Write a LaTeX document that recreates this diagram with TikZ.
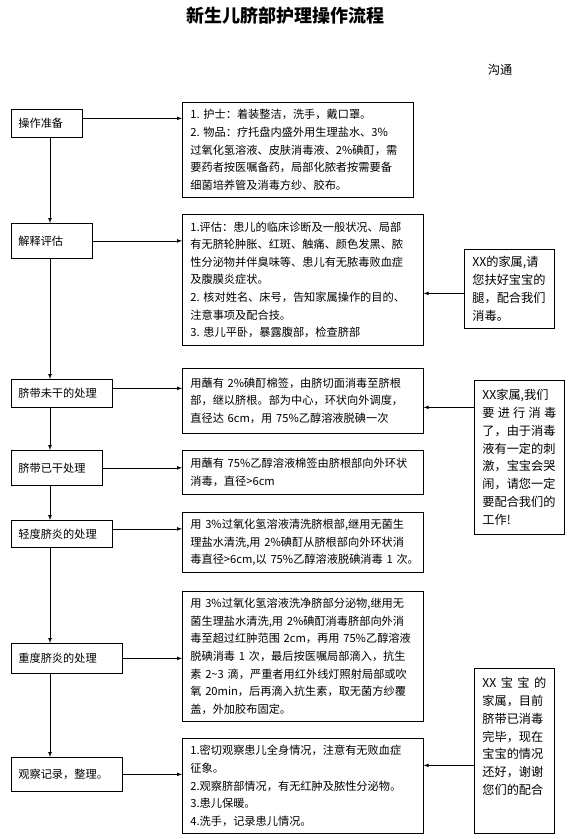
\documentclass[tikz,border=0pt]{standalone}
\usepackage{fontspec}
\setmainfont{Noto Sans CJK SC}
\newcommand{\bodyfont}{\fontsize{11.2}{17.6}\selectfont}
\newcommand{\sidefont}{\fontsize{12.2}{17.8}\selectfont}
\tikzset{
  stage/.style={draw, anchor=north west, align=left, inner xsep=7pt,
    inner ysep=0pt, font=\bodyfont},
  detail/.style={draw, anchor=north west, align=left, inner xsep=8pt,
    inner ysep=0pt, text width=225pt, font=\bodyfont},
  talkbox/.style={draw, anchor=north west, align=left, inner xsep=8pt,
    inner ysep=0pt, text width=74pt, font=\sidefont},
}

\begin{document}
\begin{tikzpicture}[x=1pt, y=-1pt, line width=0.7pt]
        \useasboundingbox (0,0) rectangle (580,839);
        \node (title) at (285, 16)
          {\fontsize{18}{20}\selectfont\bfseries 新生儿脐部护理操作流程};
        \node (talk) at (500, 70) {\sidefont 沟通};
        \coordinate (spine) at (50, 0);
        % steps on the left
        \node[stage, text width=57pt, minimum height=28pt] (prep) at (11, 109) {操作准备};
        \node[stage, text width=67pt, minimum height=35pt] (eval) at (11, 223) {解释评估};
        \node[stage, text width=87pt, minimum height=28pt] (wet) at (11, 379) {脐带未干的处理};
        \node[stage, text width=77pt, minimum height=35pt] (dry) at (11, 450) {脐带已干处理};
        \node[stage, text width=87pt, minimum height=27pt] (mild) at (11, 520) {轻度脐炎的处理};
        \node[stage, text width=97pt, minimum height=30pt] (severe) at (11, 643) {重度脐炎的处理};
        \node[stage, text width=97pt, minimum height=34pt] (record) at (11, 757) {观察记录，整理。};
        % what is done in each step
        \node[detail, text width=215pt, minimum height=95pt] (dprep) at (182, 102)
          {1.~护士：着装整洁，洗手，戴口罩。\\
           2.~物品：疗托盘内盛外用生理盐水、3\%\\
           过氧化氢溶液、皮肤消毒液、2\%碘酊，需\\
           要药者按医嘱备药，局部化脓者按需要备\\
           细菌培养管及消毒方纱、胶布。};
        \node[detail, minimum height=131pt] (deval) at (182, 214)
          {1.评估：患儿的临床诊断及一般状况、局部\\
           有无脐轮肿胀、红斑、触痛、颜色发黑、脓\\
           性分泌物并伴臭味等、患儿有无脓毒败血症\\
           及腹膜炎症状。\\
           2.~核对姓名、床号，告知家属操作的目的、\\
           注意事项及配合技。\\
           3.~患儿平卧，暴露腹部，检查脐部};
        \node[detail, minimum height=65pt] (dwet) at (182, 368)
          {用蘸有~2\%碘酊棉签，由脐切面消毒至脐根\\
           部，继以脐根。部为中心，环状向外调度，\\
           直径达~6cm，用~75\%乙醇溶液脱碘一次};
        \node[detail, minimum height=44pt] (ddry) at (182, 450)
          {用蘸有~75\%乙醇溶液棉签由脐根部向外环状\\
           消毒，直径>6cm};
        \node[detail, minimum height=60pt] (dmild) at (182, 512)
          {用~3\%过氧化氢溶液清洗脐根部,继用无菌生\\
           理盐水清洗,用~2\%碘酊从脐根部向外环状消\\
           毒直径>6cm,以~75\%乙醇溶液脱碘消毒~1~次。};
        \node[detail, minimum height=130pt] (dsevere) at (182, 591)
          {用~3\%过氧化氢溶液洗净脐部分泌物,继用无\\
           菌生理盐水清洗,用~2\%碘酊消毒脐部向外消\\
           毒至超过红肿范围~2cm，再用~75\%乙醇溶液\\
           脱碘消毒~1~次，最后按医嘱局部滴入，抗生\\
           素~2\textasciitilde3~滴，严重者用红外线灯照射局部或吹\\
           氧~20min，后再滴入抗生素，取无菌方纱覆\\
           盖，外加胶布固定。};
        \node[detail, minimum height=95pt] (drecord) at (182, 738)
          {1.密切观察患儿全身情况，注意有无败血症\\
           征象。\\
           2.观察脐部情况，有无红肿及脓性分泌物。\\
           3.患儿保暖。\\
           4.洗手，记录患儿情况。};
        % what is said to the family
        \node[talkbox, minimum height=79pt] (hold) at (464, 249)
          {XX的家属,请\\ 您扶好宝宝的\\ 腿，配合我们\\ 消毒。};
        \node[talkbox, minimum height=154pt] (warn) at (474, 380)
          {XX家属,我们\\ 要\hfill 进\hfill 行\hfill 消\hfill 毒\\
           了，由于消毒\\ 液有一定的刺\\ 激，宝宝会哭\\
           闹，请您一定\\ 要配合我们的\\ 工作!};
        \node[talkbox, text width=64pt, minimum height=165pt] (thanks) at (474, 668)
          {XX\hfill 宝\hfill 宝\hfill 的\\ 家属，目前\\ 脐带已消毒\\
           完毕，现在\\ 宝宝的情况\\ 还好，谢谢\\ 您们的配合\rule[-30pt]{0pt}{30pt}};
        % down the left
        \draw[-latex] (prep.south -| spine) -- (eval.north -| spine);
        \draw[-latex] (eval.south -| spine) -- (wet.north -| spine);
        \draw[-latex] (wet.south -| spine) -- (dry.north -| spine);
        \draw[-latex] (dry.south -| spine) -- (mild.north -| spine);
        \draw[-latex] (mild.south -| spine) -- (severe.north -| spine);
        \draw[-latex] (severe.south -| spine) -- (record.north -| spine);
        % across to the details
        \draw[-latex] ([yshift=5pt]prep.east) -- ([yshift=5pt]prep.east -| dprep.west);
        \draw[-latex] (eval.east) -- (eval.east -| deval.west);
        \draw[-latex] ([yshift=5pt]wet.east) -- ([yshift=5pt]wet.east -| dwet.west);
        \draw[-latex] (dry.east) -- (dry.east -| ddry.west);
        \draw[-latex] ([yshift=5pt]mild.east) -- ([yshift=5pt]mild.east -| dmild.west);
        \draw[-latex] (severe.east) -- (severe.east -| dsevere.west);
        \draw[-latex] (record.east) -- (record.east -| drecord.west);
        % from the family talk
        \draw[-latex] ([yshift=-4.5pt]hold.west) -- ([yshift=-4.5pt]hold.west -| deval.east);
        \draw[-latex] ([yshift=-6.5pt]dwet.east -| warn.west) -- ([yshift=-6.5pt]dwet.east);
        \draw[-latex] ([yshift=20.5pt]drecord.east -| thanks.west) -- ([yshift=20.5pt]drecord.east);
      \end{tikzpicture}
\end{document}
